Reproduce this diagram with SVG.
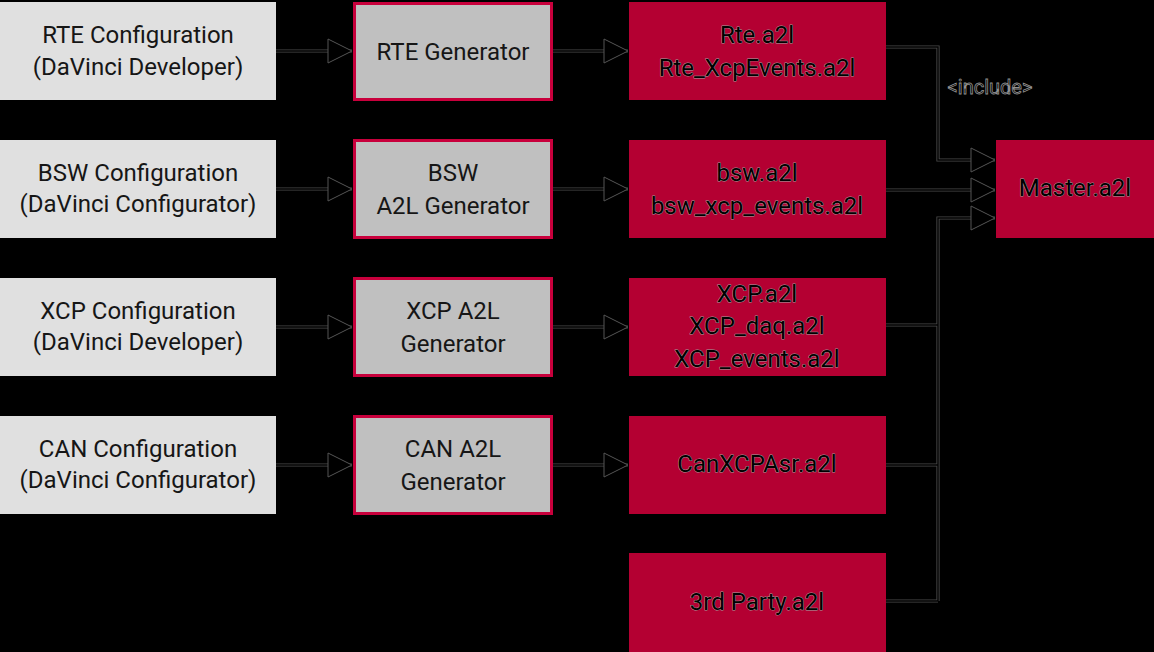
<svg xmlns="http://www.w3.org/2000/svg" width="1154" height="652" viewBox="0 0 1154 652">
<style>
text{font-family:Roboto,"Liberation Sans",sans-serif;font-size:24px;text-anchor:middle}
.cfg{fill:#e0e0e0}
.gen{fill:#c0c0c0;stroke:#c8003c;stroke-width:3}
.out{fill:#b40032}
.dark{fill:#161616}
.halo{fill:#000;stroke:#a0a0a0;stroke-width:0.9;paint-order:stroke;stroke-linejoin:round}
.lbl{fill:#000;stroke:#909090;stroke-width:0.8;font-size:20px}
.e1{fill:none;stroke:#4a4a4a;stroke-width:3.2}
.e2{fill:none;stroke:#000;stroke-width:1.4}
</style>
<defs>
<marker id="arr" markerUnits="userSpaceOnUse" markerWidth="26" markerHeight="26" refX="24" refY="12" orient="auto" overflow="visible">
<path d="M0,0 L24,12 L0,24 Z" fill="#000" stroke="#555" stroke-width="1"/>
</marker>
</defs>
<rect width="1154" height="652" fill="#000"/>

<g id="connectors">
<g class="e1">
<path d="M276,51 H352"/><path d="M276,189 H352"/><path d="M276,327 H352"/><path d="M276,465 H352"/>
<path d="M553,51 H628"/><path d="M553,189 H628"/><path d="M553,327 H628"/><path d="M553,465 H628"/>
<path d="M886,47 H938 V160 H995"/><path d="M886,190 H995"/><path d="M938,601 V218 H995"/>
<path d="M886,325 H938"/><path d="M886,465 H938"/><path d="M886,601 H938"/>
</g>
<g class="e2">
<path d="M276,51 H352" marker-end="url(#arr)"/><path d="M276,189 H352" marker-end="url(#arr)"/><path d="M276,327 H352" marker-end="url(#arr)"/><path d="M276,465 H352" marker-end="url(#arr)"/>
<path d="M553,51 H628" marker-end="url(#arr)"/><path d="M553,189 H628" marker-end="url(#arr)"/><path d="M553,327 H628" marker-end="url(#arr)"/><path d="M553,465 H628" marker-end="url(#arr)"/>
<path d="M886,47 H938 V160 H995" marker-end="url(#arr)"/><path d="M886,190 H995" marker-end="url(#arr)"/><path d="M938,601 V218 H995" marker-end="url(#arr)"/>
<path d="M886,325 H938"/><path d="M886,465 H938"/><path d="M886,601 H938"/>
</g>
<text class="lbl" x="990" y="94">&lt;include&gt;</text>
</g>

<g id="rte-config"><rect class="cfg" x="0" y="2" width="276" height="98"/><text class="dark" x="138" y="43">RTE Configuration</text><text class="dark" x="138" y="75">(DaVinci Developer)</text></g>
<g id="bsw-config"><rect class="cfg" x="0" y="140" width="276" height="98"/><text class="dark" x="138" y="181">BSW Configuration</text><text class="dark" x="138" y="212">(DaVinci Configurator)</text></g>
<g id="xcp-config"><rect class="cfg" x="0" y="278" width="276" height="98"/><text class="dark" x="138" y="319">XCP Configuration</text><text class="dark" x="138" y="350">(DaVinci Developer)</text></g>
<g id="can-config"><rect class="cfg" x="0" y="416" width="276" height="98"/><text class="dark" x="138" y="457">CAN Configuration</text><text class="dark" x="138" y="488">(DaVinci Configurator)</text></g>

<g id="rte-gen"><rect class="gen" x="354.5" y="3.5" width="197" height="96"/><text class="dark" x="453" y="60">RTE Generator</text></g>
<g id="bsw-gen"><rect class="gen" x="354.5" y="140.5" width="197" height="97"/><text class="dark" x="453" y="181">BSW</text><text class="dark" x="453" y="214">A2L Generator</text></g>
<g id="xcp-gen"><rect class="gen" x="354.5" y="278.5" width="197" height="97"/><text class="dark" x="453" y="319">XCP A2L</text><text class="dark" x="453" y="352">Generator</text></g>
<g id="can-gen"><rect class="gen" x="354.5" y="416.5" width="197" height="97"/><text class="dark" x="453" y="457">CAN A2L</text><text class="dark" x="453" y="490">Generator</text></g>

<g id="rte-a2l"><rect class="out" x="629" y="2" width="257" height="98"/><text class="halo" x="757" y="43">Rte.a2l</text><text class="halo" x="757" y="76">Rte_XcpEvents.a2l</text></g>
<g id="bsw-a2l"><rect class="out" x="629" y="140" width="257" height="98"/><text class="halo" x="757" y="181">bsw.a2l</text><text class="halo" x="757" y="214">bsw_xcp_events.a2l</text></g>
<g id="xcp-a2l"><rect class="out" x="629" y="278" width="257" height="98"/><text class="halo" x="757" y="302">XCP.a2l</text><text class="halo" x="757" y="334">XCP_daq.a2l</text><text class="halo" x="757" y="367">XCP_events.a2l</text></g>
<g id="can-a2l"><rect class="out" x="629" y="416" width="257" height="98"/><text class="halo" x="757" y="472">CanXCPAsr.a2l</text></g>
<g id="third-a2l"><rect class="out" x="629" y="553" width="257" height="99"/><text class="halo" x="757" y="610">3rd Party.a2l</text></g>
<g id="master-a2l"><rect class="out" x="996" y="140" width="158" height="98"/><text class="halo" x="1075" y="196">Master.a2l</text></g>
</svg>
